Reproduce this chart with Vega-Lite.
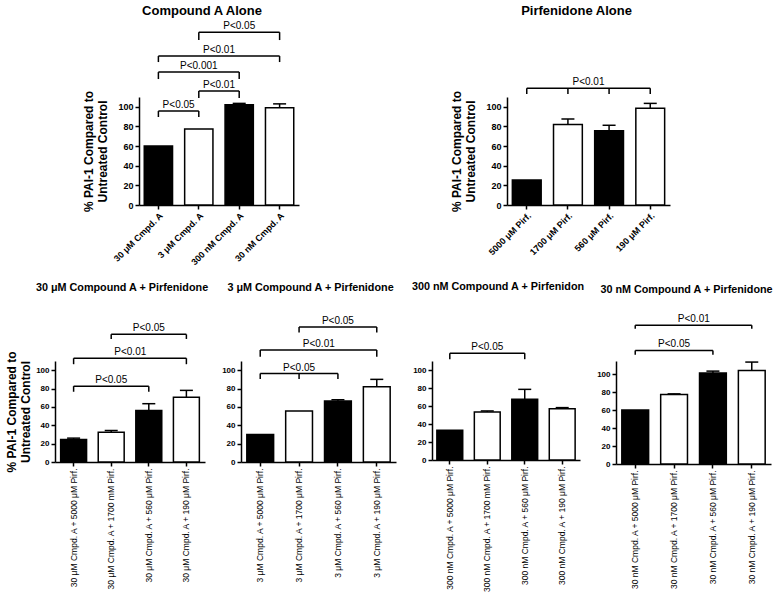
{
"$schema": "https://vega.github.io/schema/vega-lite/v6.json",
"background": "white",
"config": {
  "font": "Liberation Sans",
  "view": {"stroke": null},
  "axis": {"grid": false, "domainColor": "black", "domainWidth": 1.5, "tickColor": "black", "tickWidth": 1.5, "tickSize": 4, "labelColor": "black", "titleColor": "black", "labelFont": "Liberation Sans", "titleFont": "Liberation Sans", "labelPadding": 2},
  "axisY": {"labelOverlap": false, "labelFontWeight": "bold", "tickCount": 12},
  "title": {"font": "Liberation Sans", "fontWeight": "bold", "color": "black", "anchor": "middle", "frame": "group"},
  "text": {"font": "Liberation Sans"}
},
"datasets": {
  "bars": [
    {"panel": "TL", "label": "30 μM Cmpd. A", "value": 60, "upper": null, "shade": "solid"},
    {"panel": "TL", "label": "3 μM Cmpd. A", "value": 77.5, "upper": null, "shade": "open"},
    {"panel": "TL", "label": "300 nM Cmpd. A", "value": 102, "upper": 103.5, "shade": "solid"},
    {"panel": "TL", "label": "30 nM Cmpd. A", "value": 99, "upper": 103, "shade": "open"},
    {"panel": "TR", "label": "5000 μM Pirf.", "value": 25.5, "upper": null, "shade": "solid"},
    {"panel": "TR", "label": "1700 μM Pirf.", "value": 82, "upper": 87.5, "shade": "open"},
    {"panel": "TR", "label": "560 μM Pirf.", "value": 75.5, "upper": 81.2, "shade": "solid"},
    {"panel": "TR", "label": "190 μM Pirf.", "value": 98.5, "upper": 103.5, "shade": "open"},
    {"panel": "P1", "label": "30 μM Cmpd. A + 5000 μM Pirf.", "value": 24.5, "upper": 26, "shade": "solid"},
    {"panel": "P1", "label": "30 μM Cmpd. A + 1700 mM Pirf.", "value": 32.5, "upper": 34.3, "shade": "open"},
    {"panel": "P1", "label": "30 μM Cmpd. A + 560 μM Pirf.", "value": 56, "upper": 63.5, "shade": "solid"},
    {"panel": "P1", "label": "30 μM Cmpd. A + 190 μM Pirf.", "value": 70.5, "upper": 78, "shade": "open"},
    {"panel": "P2", "label": "3 μM Cmpd. A + 5000 μM Pirf.", "value": 30, "upper": null, "shade": "solid"},
    {"panel": "P2", "label": "3 μM Cmpd. A + 1700 μM Pirf.", "value": 55.5, "upper": null, "shade": "open"},
    {"panel": "P2", "label": "3 μM Cmpd. A + 560 μM Pirf.", "value": 66.5, "upper": 67.8, "shade": "solid"},
    {"panel": "P2", "label": "3 μM Cmpd. A + 190 μM Pirf.", "value": 82, "upper": 90, "shade": "open"},
    {"panel": "P3", "label": "300 nM Cmpd. A + 5000 μM Pirf.", "value": 33, "upper": null, "shade": "solid"},
    {"panel": "P3", "label": "300 nM Cmpd. A + 1700 mM Pirf.", "value": 53.3, "upper": 54.5, "shade": "open"},
    {"panel": "P3", "label": "300 nM Cmpd. A + 560 μM Pirf.", "value": 67.5, "upper": 78.5, "shade": "solid"},
    {"panel": "P3", "label": "300 nM Cmpd. A + 190 μM Pirf.", "value": 57, "upper": 58.2, "shade": "open"},
    {"panel": "P4", "label": "30 nM Cmpd. A + 5000 μM Pirf.", "value": 60.4, "upper": null, "shade": "solid"},
    {"panel": "P4", "label": "30 nM Cmpd. A + 1700 μM Pirf.", "value": 77.5, "upper": 78.3, "shade": "open"},
    {"panel": "P4", "label": "30 nM Cmpd. A + 560 μM Pirf.", "value": 101.5, "upper": 103.7, "shade": "solid"},
    {"panel": "P4", "label": "30 nM Cmpd. A + 190 μM Pirf.", "value": 104.4, "upper": 113.8, "shade": "open"}
  ],
  "brackets": [
    {"panel": "TL", "from": "30 μM Cmpd. A", "to": "3 μM Cmpd. A", "y": 95.7, "y2": 89.6, "label": "P<0.05", "at": "3 μM Cmpd. A", "pos": "gap"},
    {"panel": "TL", "from": "3 μM Cmpd. A", "to": "300 nM Cmpd. A", "y": 116, "y2": 109, "label": "P<0.01", "at": "300 nM Cmpd. A", "pos": "gap"},
    {"panel": "TL", "from": "30 μM Cmpd. A", "to": "300 nM Cmpd. A", "y": 135.4, "y2": 128.3, "label": "P<0.001", "at": "3 μM Cmpd. A", "pos": "band"},
    {"panel": "TL", "from": "30 μM Cmpd. A", "to": "30 nM Cmpd. A", "y": 151.7, "y2": 145.6, "label": "P<0.01", "at": "300 nM Cmpd. A", "pos": "gap"},
    {"panel": "TL", "from": "3 μM Cmpd. A", "to": "30 nM Cmpd. A", "y": 176, "y2": 168, "label": "P<0.05", "at": "300 nM Cmpd. A", "pos": "band"},
    {"panel": "TR", "from": "5000 μM Pirf.", "to": "190 μM Pirf.", "y": 119, "y2": 113, "label": "P<0.01", "at": "560 μM Pirf.", "pos": "gap"},
    {"panel": "P1", "from": "30 μM Cmpd. A + 5000 μM Pirf.", "to": "30 μM Cmpd. A + 560 μM Pirf.", "y": 82.6, "y2": 76.5, "label": "P<0.05", "at": "30 μM Cmpd. A + 1700 mM Pirf.", "pos": "band"},
    {"panel": "P1", "from": "30 μM Cmpd. A + 5000 μM Pirf.", "to": "30 μM Cmpd. A + 190 μM Pirf.", "y": 113, "y2": 106.5, "label": "P<0.01", "at": "30 μM Cmpd. A + 560 μM Pirf.", "pos": "gap"},
    {"panel": "P1", "from": "30 μM Cmpd. A + 1700 mM Pirf.", "to": "30 μM Cmpd. A + 190 μM Pirf.", "y": 139, "y2": 134, "label": "P<0.05", "at": "30 μM Cmpd. A + 560 μM Pirf.", "pos": "band"},
    {"panel": "P2", "from": "3 μM Cmpd. A + 5000 μM Pirf.", "to": "3 μM Cmpd. A + 560 μM Pirf.", "y": 96.3, "y2": 90.5, "label": "P<0.05", "at": "3 μM Cmpd. A + 1700 μM Pirf.", "pos": "band"},
    {"panel": "P2", "from": "3 μM Cmpd. A + 5000 μM Pirf.", "to": "3 μM Cmpd. A + 190 μM Pirf.", "y": 122, "y2": 114.6, "label": "P<0.01", "at": "3 μM Cmpd. A + 560 μM Pirf.", "pos": "gap"},
    {"panel": "P2", "from": "3 μM Cmpd. A + 1700 μM Pirf.", "to": "3 μM Cmpd. A + 190 μM Pirf.", "y": 147, "y2": 141, "label": "P<0.05", "at": "3 μM Cmpd. A + 560 μM Pirf.", "pos": "band"},
    {"panel": "P3", "from": "300 nM Cmpd. A + 5000 μM Pirf.", "to": "300 nM Cmpd. A + 560 μM Pirf.", "y": 118.7, "y2": 112, "label": "P<0.05", "at": "300 nM Cmpd. A + 1700 mM Pirf.", "pos": "band"},
    {"panel": "P4", "from": "30 nM Cmpd. A + 5000 μM Pirf.", "to": "30 nM Cmpd. A + 560 μM Pirf.", "y": 126.8, "y2": 122, "label": "P<0.05", "at": "30 nM Cmpd. A + 1700 μM Pirf.", "pos": "band"},
    {"panel": "P4", "from": "30 nM Cmpd. A + 5000 μM Pirf.", "to": "30 nM Cmpd. A + 190 μM Pirf.", "y": 154.8, "y2": 151, "label": "P<0.01", "at": "30 nM Cmpd. A + 560 μM Pirf.", "pos": "gap"}
  ],
  "midticks": [
    {"panel": "TR", "x": "1700 μM Pirf.", "y": 119, "y2": 113},
    {"panel": "TR", "x": "560 μM Pirf.", "y": 119, "y2": 113},
    {"panel": "P2", "x": "3 μM Cmpd. A + 1700 μM Pirf.", "y": 96.3, "y2": 90.5}
  ]
},
"bounds": "flush",
"spacing": 264,
"vconcat": [
 {"bounds": "flush", "spacing": 20, "hconcat": [
  {"width": 64, "height": 10, "data": {"values": []}, "mark": "point"},
  {"width": 160, "height": 108,
   "title": {"text": "Compound A Alone", "fontSize": 13, "offset": 3, "dx": -17},
   "layer": [
    {"data": {"name": "bars"}, "transform": [{"filter": "datum.panel === 'TL'"}],
     "mark": {"type": "bar", "stroke": "black", "strokeWidth": 1.5},
     "encoding": {
      "x": {"field": "label", "type": "nominal", "scale": {"domain": ["30 μM Cmpd. A", "3 μM Cmpd. A", "300 nM Cmpd. A", "30 nM Cmpd. A"], "paddingInner": 0.3, "paddingOuter": 0.13},
            "axis": {"title": null, "labelAngle": -45, "labelFontSize": 9, "labelFontWeight": "bold"}},
      "y": {"field": "value", "type": "quantitative", "scale": {"domain": [0, 110], "nice": false},
            "axis": {"values": [0, 20, 40, 60, 80, 100], "tickCount": 12, "labelOverlap": false, "labelFontWeight": "bold", "labelFontSize": 9, "title": ["% PAI-1 Compared to", "Untreated Control"], "titleFontSize": 12, "titleFontWeight": "bold", "titlePadding": 8, "titleLineHeight": 14}},
      "fill": {"field": "shade", "type": "nominal", "scale": {"domain": ["solid", "open"], "range": ["black", "white"]}, "legend": null}
     }},
    {"data": {"name": "bars"}, "transform": [{"filter": "datum.panel === 'TL' && datum.upper != null"}],
     "mark": {"type": "rule", "color": "black", "strokeWidth": 1.5},
     "encoding": {"x": {"field": "label", "type": "nominal"}, "y": {"field": "value", "type": "quantitative"}, "y2": {"field": "upper"}}},
    {"data": {"name": "bars"}, "transform": [{"filter": "datum.panel === 'TL' && datum.upper != null"}],
     "mark": {"type": "tick", "color": "black", "size": 13, "thickness": 1.5, "opacity": 1},
     "encoding": {"x": {"field": "label", "type": "nominal"}, "y": {"field": "upper", "type": "quantitative"}}},
    {"data": {"name": "brackets"}, "transform": [{"filter": "datum.panel === 'TL'"}],
     "mark": {"type": "rule", "color": "black", "strokeWidth": 1.5},
     "encoding": {"x": {"field": "from", "type": "nominal"}, "x2": {"field": "to"}, "y": {"field": "y", "type": "quantitative"}}},
    {"data": {"name": "brackets"}, "transform": [{"filter": "datum.panel === 'TL'"}],
     "mark": {"type": "rule", "color": "black", "strokeWidth": 1.5},
     "encoding": {"x": {"field": "from", "type": "nominal"}, "y": {"field": "y", "type": "quantitative"}, "y2": {"field": "y2"}}},
    {"data": {"name": "brackets"}, "transform": [{"filter": "datum.panel === 'TL'"}],
     "mark": {"type": "rule", "color": "black", "strokeWidth": 1.5},
     "encoding": {"x": {"field": "to", "type": "nominal"}, "y": {"field": "y", "type": "quantitative"}, "y2": {"field": "y2"}}},
    {"data": {"name": "brackets"}, "transform": [{"filter": "datum.panel === 'TL' && datum.pos === 'band'"}],
     "mark": {"type": "text", "fontSize": 10, "baseline": "bottom", "dy": -1, "color": "black"},
     "encoding": {"x": {"field": "at", "type": "nominal"}, "y": {"field": "y", "type": "quantitative"}, "text": {"field": "label"}}},
    {"data": {"name": "brackets"}, "transform": [{"filter": "datum.panel === 'TL' && datum.pos === 'gap'"}],
     "mark": {"type": "text", "fontSize": 10, "baseline": "bottom", "dy": -1, "color": "black"},
     "encoding": {"x": {"field": "at", "type": "nominal", "bandPosition": -0.214}, "y": {"field": "y", "type": "quantitative"}, "text": {"field": "label"}}}
   ]},
  {"width": 168, "height": 10, "data": {"values": []}, "mark": "point"},
  {"width": 163, "height": 108,
   "title": {"text": "Pirfenidone Alone", "fontSize": 13, "offset": 59, "dx": -12},
   "layer": [
    {"data": {"name": "bars"}, "transform": [{"filter": "datum.panel === 'TR'"}],
     "mark": {"type": "bar", "stroke": "black", "strokeWidth": 1.5},
     "encoding": {
      "x": {"field": "label", "type": "nominal", "scale": {"domain": ["5000 μM Pirf.", "1700 μM Pirf.", "560 μM Pirf.", "190 μM Pirf."], "paddingInner": 0.3, "paddingOuter": 0.13},
            "axis": {"title": null, "labelAngle": -45, "labelFontSize": 9, "labelFontWeight": "bold"}},
      "y": {"field": "value", "type": "quantitative", "scale": {"domain": [0, 110], "nice": false},
            "axis": {"values": [0, 20, 40, 60, 80, 100], "tickCount": 12, "labelOverlap": false, "labelFontWeight": "bold", "labelFontSize": 9, "title": ["% PAI-1 Compared to", "Untreated Control"], "titleFontSize": 12, "titleFontWeight": "bold", "titlePadding": 8, "titleLineHeight": 14}},
      "fill": {"field": "shade", "type": "nominal", "scale": {"domain": ["solid", "open"], "range": ["black", "white"]}, "legend": null}
     }},
    {"data": {"name": "bars"}, "transform": [{"filter": "datum.panel === 'TR' && datum.upper != null"}],
     "mark": {"type": "rule", "color": "black", "strokeWidth": 1.5},
     "encoding": {"x": {"field": "label", "type": "nominal"}, "y": {"field": "value", "type": "quantitative"}, "y2": {"field": "upper"}}},
    {"data": {"name": "bars"}, "transform": [{"filter": "datum.panel === 'TR' && datum.upper != null"}],
     "mark": {"type": "tick", "color": "black", "size": 13, "thickness": 1.5, "opacity": 1},
     "encoding": {"x": {"field": "label", "type": "nominal"}, "y": {"field": "upper", "type": "quantitative"}}},
    {"data": {"name": "brackets"}, "transform": [{"filter": "datum.panel === 'TR'"}],
     "mark": {"type": "rule", "color": "black", "strokeWidth": 1.5},
     "encoding": {"x": {"field": "from", "type": "nominal"}, "x2": {"field": "to"}, "y": {"field": "y", "type": "quantitative"}}},
    {"data": {"name": "brackets"}, "transform": [{"filter": "datum.panel === 'TR'"}],
     "mark": {"type": "rule", "color": "black", "strokeWidth": 1.5},
     "encoding": {"x": {"field": "from", "type": "nominal"}, "y": {"field": "y", "type": "quantitative"}, "y2": {"field": "y2"}}},
    {"data": {"name": "brackets"}, "transform": [{"filter": "datum.panel === 'TR'"}],
     "mark": {"type": "rule", "color": "black", "strokeWidth": 1.5},
     "encoding": {"x": {"field": "to", "type": "nominal"}, "y": {"field": "y", "type": "quantitative"}, "y2": {"field": "y2"}}},
    {"data": {"name": "midticks"}, "transform": [{"filter": "datum.panel === 'TR'"}],
     "mark": {"type": "rule", "color": "black", "strokeWidth": 1.5},
     "encoding": {"x": {"field": "x", "type": "nominal"}, "y": {"field": "y", "type": "quantitative"}, "y2": {"field": "y2"}}},
    {"data": {"name": "brackets"}, "transform": [{"filter": "datum.panel === 'TR' && datum.pos === 'gap'"}],
     "mark": {"type": "text", "fontSize": 10, "baseline": "bottom", "dy": -1, "color": "black"},
     "encoding": {"x": {"field": "at", "type": "nominal", "bandPosition": -0.214}, "y": {"field": "y", "type": "quantitative"}, "text": {"field": "label"}}}
   ]}
 ]},
 {"bounds": "flush", "spacing": 36, "hconcat": [
  {"width": 150, "height": 101,
   "title": {"text": "30 μM Compound  A + Pirfenidone", "fontSize": 10.8, "offset": 31, "dx": -8},
   "layer": [
    {"data": {"name": "bars"}, "transform": [{"filter": "datum.panel === 'P1'"}],
     "mark": {"type": "bar", "stroke": "black", "strokeWidth": 1.5},
     "encoding": {
      "x": {"field": "label", "type": "nominal", "scale": {"domain": ["30 μM Cmpd. A + 5000 μM Pirf.", "30 μM Cmpd. A + 1700 mM Pirf.", "30 μM Cmpd. A + 560 μM Pirf.", "30 μM Cmpd. A + 190 μM Pirf."], "paddingInner": 0.31, "paddingOuter": 0.15},
            "axis": {"title": null, "labelAngle": -90, "labelFontSize": 8.5}},
      "y": {"field": "value", "type": "quantitative", "scale": {"domain": [0, 110], "nice": false},
            "axis": {"values": [0, 20, 40, 60, 80, 100], "tickCount": 12, "labelOverlap": false, "labelFontWeight": "bold", "labelFontSize": 8, "title": ["% PAI-1 Compared to", "Untreated Control"], "titleFontSize": 12, "titleFontWeight": "bold", "titlePadding": 3, "titleLineHeight": 14}},
      "fill": {"field": "shade", "type": "nominal", "scale": {"domain": ["solid", "open"], "range": ["black", "white"]}, "legend": null}
     }},
    {"data": {"name": "bars"}, "transform": [{"filter": "datum.panel === 'P1' && datum.upper != null"}],
     "mark": {"type": "rule", "color": "black", "strokeWidth": 1.5},
     "encoding": {"x": {"field": "label", "type": "nominal"}, "y": {"field": "value", "type": "quantitative"}, "y2": {"field": "upper"}}},
    {"data": {"name": "bars"}, "transform": [{"filter": "datum.panel === 'P1' && datum.upper != null"}],
     "mark": {"type": "tick", "color": "black", "size": 13, "thickness": 1.5, "opacity": 1},
     "encoding": {"x": {"field": "label", "type": "nominal"}, "y": {"field": "upper", "type": "quantitative"}}},
    {"data": {"name": "brackets"}, "transform": [{"filter": "datum.panel === 'P1'"}],
     "mark": {"type": "rule", "color": "black", "strokeWidth": 1.5},
     "encoding": {"x": {"field": "from", "type": "nominal"}, "x2": {"field": "to"}, "y": {"field": "y", "type": "quantitative"}}},
    {"data": {"name": "brackets"}, "transform": [{"filter": "datum.panel === 'P1'"}],
     "mark": {"type": "rule", "color": "black", "strokeWidth": 1.5},
     "encoding": {"x": {"field": "from", "type": "nominal"}, "y": {"field": "y", "type": "quantitative"}, "y2": {"field": "y2"}}},
    {"data": {"name": "brackets"}, "transform": [{"filter": "datum.panel === 'P1'"}],
     "mark": {"type": "rule", "color": "black", "strokeWidth": 1.5},
     "encoding": {"x": {"field": "to", "type": "nominal"}, "y": {"field": "y", "type": "quantitative"}, "y2": {"field": "y2"}}},
    {"data": {"name": "brackets"}, "transform": [{"filter": "datum.panel === 'P1' && datum.pos === 'band'"}],
     "mark": {"type": "text", "fontSize": 10, "baseline": "bottom", "dy": -1, "color": "black"},
     "encoding": {"x": {"field": "at", "type": "nominal"}, "y": {"field": "y", "type": "quantitative"}, "text": {"field": "label"}}},
    {"data": {"name": "brackets"}, "transform": [{"filter": "datum.panel === 'P1' && datum.pos === 'gap'"}],
     "mark": {"type": "text", "fontSize": 10, "baseline": "bottom", "dy": -1, "color": "black"},
     "encoding": {"x": {"field": "at", "type": "nominal", "bandPosition": -0.214}, "y": {"field": "y", "type": "quantitative"}, "text": {"field": "label"}}}
   ]},
  {"width": 155, "height": 101,
   "title": {"text": "3 μM Compound A + Pirfenidone", "fontSize": 10.8, "offset": 23, "dx": -8},
   "layer": [
    {"data": {"name": "bars"}, "transform": [{"filter": "datum.panel === 'P2'"}],
     "mark": {"type": "bar", "stroke": "black", "strokeWidth": 1.5},
     "encoding": {
      "x": {"field": "label", "type": "nominal", "scale": {"domain": ["3 μM Cmpd. A + 5000 μM Pirf.", "3 μM Cmpd. A + 1700 μM Pirf.", "3 μM Cmpd. A + 560 μM Pirf.", "3 μM Cmpd. A + 190 μM Pirf."], "paddingInner": 0.31, "paddingOuter": 0.15},
            "axis": {"title": null, "labelAngle": -90, "labelFontSize": 8.5}},
      "y": {"field": "value", "type": "quantitative", "scale": {"domain": [0, 110], "nice": false},
            "axis": {"values": [0, 20, 40, 60, 80, 100], "tickCount": 12, "labelOverlap": false, "labelFontWeight": "bold", "labelFontSize": 8, "title": null}},
      "fill": {"field": "shade", "type": "nominal", "scale": {"domain": ["solid", "open"], "range": ["black", "white"]}, "legend": null}
     }},
    {"data": {"name": "bars"}, "transform": [{"filter": "datum.panel === 'P2' && datum.upper != null"}],
     "mark": {"type": "rule", "color": "black", "strokeWidth": 1.5},
     "encoding": {"x": {"field": "label", "type": "nominal"}, "y": {"field": "value", "type": "quantitative"}, "y2": {"field": "upper"}}},
    {"data": {"name": "bars"}, "transform": [{"filter": "datum.panel === 'P2' && datum.upper != null"}],
     "mark": {"type": "tick", "color": "black", "size": 13, "thickness": 1.5, "opacity": 1},
     "encoding": {"x": {"field": "label", "type": "nominal"}, "y": {"field": "upper", "type": "quantitative"}}},
    {"data": {"name": "brackets"}, "transform": [{"filter": "datum.panel === 'P2'"}],
     "mark": {"type": "rule", "color": "black", "strokeWidth": 1.5},
     "encoding": {"x": {"field": "from", "type": "nominal"}, "x2": {"field": "to"}, "y": {"field": "y", "type": "quantitative"}}},
    {"data": {"name": "brackets"}, "transform": [{"filter": "datum.panel === 'P2'"}],
     "mark": {"type": "rule", "color": "black", "strokeWidth": 1.5},
     "encoding": {"x": {"field": "from", "type": "nominal"}, "y": {"field": "y", "type": "quantitative"}, "y2": {"field": "y2"}}},
    {"data": {"name": "brackets"}, "transform": [{"filter": "datum.panel === 'P2'"}],
     "mark": {"type": "rule", "color": "black", "strokeWidth": 1.5},
     "encoding": {"x": {"field": "to", "type": "nominal"}, "y": {"field": "y", "type": "quantitative"}, "y2": {"field": "y2"}}},
    {"data": {"name": "midticks"}, "transform": [{"filter": "datum.panel === 'P2'"}],
     "mark": {"type": "rule", "color": "black", "strokeWidth": 1.5},
     "encoding": {"x": {"field": "x", "type": "nominal"}, "y": {"field": "y", "type": "quantitative"}, "y2": {"field": "y2"}}},
    {"data": {"name": "brackets"}, "transform": [{"filter": "datum.panel === 'P2' && datum.pos === 'band'"}],
     "mark": {"type": "text", "fontSize": 10, "baseline": "bottom", "dy": -1, "color": "black"},
     "encoding": {"x": {"field": "at", "type": "nominal"}, "y": {"field": "y", "type": "quantitative"}, "text": {"field": "label"}}},
    {"data": {"name": "brackets"}, "transform": [{"filter": "datum.panel === 'P2' && datum.pos === 'gap'"}],
     "mark": {"type": "text", "fontSize": 10, "baseline": "bottom", "dy": -1, "color": "black"},
     "encoding": {"x": {"field": "at", "type": "nominal", "bandPosition": -0.214}, "y": {"field": "y", "type": "quantitative"}, "text": {"field": "label"}}}
   ]},
  {"width": 148, "height": 99,
   "title": {"text": "300 nM Compound A + Pirfenidon", "fontSize": 10.8, "offset": 50, "dx": -8},
   "layer": [
    {"data": {"name": "bars"}, "transform": [{"filter": "datum.panel === 'P3'"}],
     "mark": {"type": "bar", "stroke": "black", "strokeWidth": 1.5},
     "encoding": {
      "x": {"field": "label", "type": "nominal", "scale": {"domain": ["300 nM Cmpd. A + 5000 μM Pirf.", "300 nM Cmpd. A + 1700 mM Pirf.", "300 nM Cmpd. A + 560 μM Pirf.", "300 nM Cmpd. A + 190 μM Pirf."], "paddingInner": 0.31, "paddingOuter": 0.13},
            "axis": {"title": null, "labelAngle": -90, "labelFontSize": 8.5}},
      "y": {"field": "value", "type": "quantitative", "scale": {"domain": [0, 110], "nice": false},
            "axis": {"values": [0, 20, 40, 60, 80, 100], "tickCount": 12, "labelOverlap": false, "labelFontWeight": "bold", "labelFontSize": 8, "title": null}},
      "fill": {"field": "shade", "type": "nominal", "scale": {"domain": ["solid", "open"], "range": ["black", "white"]}, "legend": null}
     }},
    {"data": {"name": "bars"}, "transform": [{"filter": "datum.panel === 'P3' && datum.upper != null"}],
     "mark": {"type": "rule", "color": "black", "strokeWidth": 1.5},
     "encoding": {"x": {"field": "label", "type": "nominal"}, "y": {"field": "value", "type": "quantitative"}, "y2": {"field": "upper"}}},
    {"data": {"name": "bars"}, "transform": [{"filter": "datum.panel === 'P3' && datum.upper != null"}],
     "mark": {"type": "tick", "color": "black", "size": 13, "thickness": 1.5, "opacity": 1},
     "encoding": {"x": {"field": "label", "type": "nominal"}, "y": {"field": "upper", "type": "quantitative"}}},
    {"data": {"name": "brackets"}, "transform": [{"filter": "datum.panel === 'P3'"}],
     "mark": {"type": "rule", "color": "black", "strokeWidth": 1.5},
     "encoding": {"x": {"field": "from", "type": "nominal"}, "x2": {"field": "to"}, "y": {"field": "y", "type": "quantitative"}}},
    {"data": {"name": "brackets"}, "transform": [{"filter": "datum.panel === 'P3'"}],
     "mark": {"type": "rule", "color": "black", "strokeWidth": 1.5},
     "encoding": {"x": {"field": "from", "type": "nominal"}, "y": {"field": "y", "type": "quantitative"}, "y2": {"field": "y2"}}},
    {"data": {"name": "brackets"}, "transform": [{"filter": "datum.panel === 'P3'"}],
     "mark": {"type": "rule", "color": "black", "strokeWidth": 1.5},
     "encoding": {"x": {"field": "to", "type": "nominal"}, "y": {"field": "y", "type": "quantitative"}, "y2": {"field": "y2"}}},
    {"data": {"name": "brackets"}, "transform": [{"filter": "datum.panel === 'P3' && datum.pos === 'band'"}],
     "mark": {"type": "text", "fontSize": 10, "baseline": "bottom", "dy": -1, "color": "black"},
     "encoding": {"x": {"field": "at", "type": "nominal"}, "y": {"field": "y", "type": "quantitative"}, "text": {"field": "label"}}}
   ]},
  {"width": 155, "height": 103,
   "title": {"text": "30 nM Compound A + Pirfenidone", "fontSize": 10.8, "offset": 20, "dx": -7},
   "layer": [
    {"data": {"name": "bars"}, "transform": [{"filter": "datum.panel === 'P4'"}],
     "mark": {"type": "bar", "stroke": "black", "strokeWidth": 1.5},
     "encoding": {
      "x": {"field": "label", "type": "nominal", "scale": {"domain": ["30 nM Cmpd. A + 5000 μM Pirf.", "30 nM Cmpd. A + 1700 μM Pirf.", "30 nM Cmpd. A + 560 μM Pirf.", "30 nM Cmpd. A + 190 μM Pirf."], "paddingInner": 0.31, "paddingOuter": 0.15},
            "axis": {"title": null, "labelAngle": -90, "labelFontSize": 8.5}},
      "y": {"field": "value", "type": "quantitative", "scale": {"domain": [0, 115], "nice": false},
            "axis": {"values": [0, 20, 40, 60, 80, 100], "tickCount": 12, "labelOverlap": false, "labelFontWeight": "bold", "labelFontSize": 8, "title": null}},
      "fill": {"field": "shade", "type": "nominal", "scale": {"domain": ["solid", "open"], "range": ["black", "white"]}, "legend": null}
     }},
    {"data": {"name": "bars"}, "transform": [{"filter": "datum.panel === 'P4' && datum.upper != null"}],
     "mark": {"type": "rule", "color": "black", "strokeWidth": 1.5},
     "encoding": {"x": {"field": "label", "type": "nominal"}, "y": {"field": "value", "type": "quantitative"}, "y2": {"field": "upper"}}},
    {"data": {"name": "bars"}, "transform": [{"filter": "datum.panel === 'P4' && datum.upper != null"}],
     "mark": {"type": "tick", "color": "black", "size": 13, "thickness": 1.5, "opacity": 1},
     "encoding": {"x": {"field": "label", "type": "nominal"}, "y": {"field": "upper", "type": "quantitative"}}},
    {"data": {"name": "brackets"}, "transform": [{"filter": "datum.panel === 'P4'"}],
     "mark": {"type": "rule", "color": "black", "strokeWidth": 1.5},
     "encoding": {"x": {"field": "from", "type": "nominal"}, "x2": {"field": "to"}, "y": {"field": "y", "type": "quantitative"}}},
    {"data": {"name": "brackets"}, "transform": [{"filter": "datum.panel === 'P4'"}],
     "mark": {"type": "rule", "color": "black", "strokeWidth": 1.5},
     "encoding": {"x": {"field": "from", "type": "nominal"}, "y": {"field": "y", "type": "quantitative"}, "y2": {"field": "y2"}}},
    {"data": {"name": "brackets"}, "transform": [{"filter": "datum.panel === 'P4'"}],
     "mark": {"type": "rule", "color": "black", "strokeWidth": 1.5},
     "encoding": {"x": {"field": "to", "type": "nominal"}, "y": {"field": "y", "type": "quantitative"}, "y2": {"field": "y2"}}},
    {"data": {"name": "brackets"}, "transform": [{"filter": "datum.panel === 'P4' && datum.pos === 'band'"}],
     "mark": {"type": "text", "fontSize": 10, "baseline": "bottom", "dy": -1, "color": "black"},
     "encoding": {"x": {"field": "at", "type": "nominal"}, "y": {"field": "y", "type": "quantitative"}, "text": {"field": "label"}}},
    {"data": {"name": "brackets"}, "transform": [{"filter": "datum.panel === 'P4' && datum.pos === 'gap'"}],
     "mark": {"type": "text", "fontSize": 10, "baseline": "bottom", "dy": -1, "color": "black"},
     "encoding": {"x": {"field": "at", "type": "nominal", "bandPosition": -0.214}, "y": {"field": "y", "type": "quantitative"}, "text": {"field": "label"}}}
   ]}
 ]}
]
}
